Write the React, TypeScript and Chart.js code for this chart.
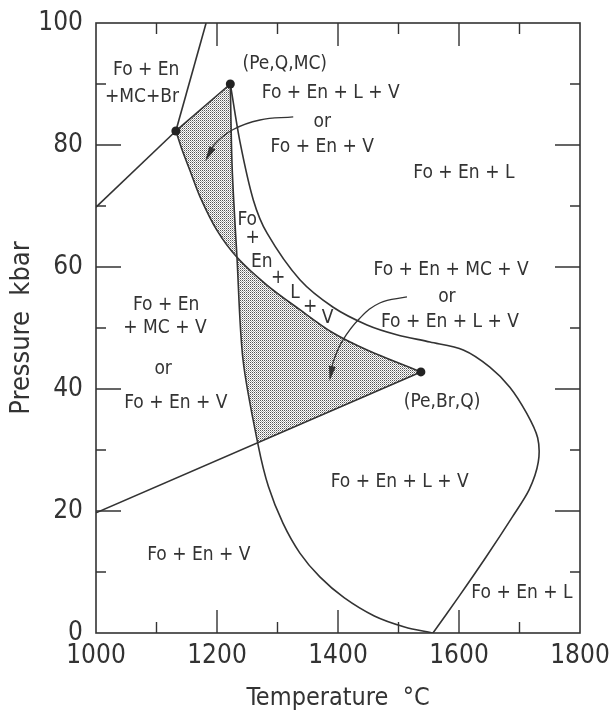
import React, { useEffect, useRef } from 'react';
import { Chart, registerables } from 'chart.js';

Chart.register(...registerables);

// ---- axes ----
const tempRange = [1000, 1800];
const pressRange = [0, 100];
const tempLabelTicks = [1000, 1200, 1400, 1600, 1800];
const pressLabelTicks = [0, 20, 40, 60, 80, 100];
const tempTickMarks = [1100, 1200, 1300, 1400, 1500, 1600, 1700];
const pressTickMarks = [10, 20, 30, 40, 50, 60, 70, 80, 90];

// ---- curve A: from (Pe,Q,MC) down to 1557 °C at 0 kbar ----
const curveAT = [1222, 1225, 1233, 1243, 1268, 1285, 1309, 1337, 1370, 1410, 1460, 1510, 1557];
const curveAP = [90, 76.4, 61.6, 44.8, 30.8, 24, 18, 13.1, 9.2, 5.8, 2.8, 1, 0];

// ---- curve B: right loop from 1557 °C back up to (Pe,Q,MC) ----
const curveBT = [1557, 1600, 1645, 1688, 1716, 1731, 1730, 1712, 1684, 1651, 1607, 1552, 1497, 1448, 1392, 1337, 1283, 1260, 1238, 1222];
const curveBP = [0, 6, 12.5, 19, 23.5, 28, 32, 36, 40.3, 43.6, 46.4, 47.7, 48.9, 50.5, 53.4, 57.9, 65.5, 71, 80.5, 90];

// ---- curve C: lower band curve to (Pe,Br,Q) ----
const curveCT = [1132, 1143, 1155, 1172, 1200, 1233, 1283, 1337, 1390, 1450, 1537];
const curveCP = [82.3, 79, 75.9, 71.5, 66, 61.6, 57, 53, 49.3, 46.3, 42.8];

// ---- straight lines ----
const lineDT = [1000, 1132];
const lineDP = [69.8, 82.3];
const lineSteepT = [1132, 1182];
const lineSteepP = [82.3, 100];
const lineET = [1132, 1222];
const lineEP = [82.3, 90];
const lineFT = [1000, 1537];
const lineFP = [19.7, 42.8];

// ---- shaded fields ----
const shade1TopT = [1132, 1222, 1225, 1233];
const shade1TopP = [82.3, 90, 76.4, 61.6];
const shade1BotT = [1132, 1143, 1155, 1172, 1200, 1233];
const shade1BotP = [82.3, 79, 75.9, 71.5, 66, 61.6];
const shade2TopT = [1233, 1283, 1337, 1390, 1450, 1537];
const shade2TopP = [61.6, 57, 53, 49.3, 46.3, 42.8];
const shade2BotT = [1233, 1243, 1255, 1268, 1537];
const shade2BotP = [61.6, 44.8, 37.5, 31.2, 42.8];

// ---- arrows ----
const arrow1T = [1326, 1271, 1226, 1195, 1183];
const arrow1P = [84.6, 84.1, 82.5, 80.0, 77.8];
const arrow2T = [1514, 1469, 1436, 1408, 1392, 1387];
const arrow2P = [55.1, 54.1, 51.6, 48.0, 44.4, 41.8];

// ---- invariant points ----
const pointT = [1132, 1222, 1537];
const pointP = [82.3, 90, 42.8];

// ---- field labels ----
const labelText = [
  'Fo + En', '+MC+Br', '(Pe,Q,MC)', 'Fo + En + L + V', 'or', 'Fo + En + V', 'Fo + En + L',
  'Fo', '+', 'En', '+', 'L', '+', 'V',
  'Fo + En + MC + V', 'or', 'Fo + En + L + V',
  'Fo + En', '+ MC + V', 'or', 'Fo + En + V',
  '(Pe,Br,Q)', 'Fo + En + L + V', 'Fo + En + V', 'Fo + En + L',
];
const labelT = [
  1083, 1076, 1312, 1388, 1374, 1374, 1608,
  1250, 1259, 1274, 1301, 1329, 1354, 1383,
  1587, 1580, 1585,
  1116, 1114, 1111, 1132,
  1572, 1502, 1170, 1704,
];
const labelP = [
  92.3, 87.9, 93.3, 88.5, 83.8, 79.7, 75.4,
  67.7, 64.8, 60.8, 58.2, 55.7, 53.4, 51.6,
  59.5, 55.1, 51,
  53.8, 50, 43.3, 37.7,
  37.9, 24.8, 12.8, 6.6,
];

const FONT = "'Liberation Sans Narrow', 'DejaVu Sans Condensed', 'Liberation Sans', sans-serif";
const INK = '#333333';

const pts = (t: number[], p: number[]) => t.map((x, i) => ({ x, y: p[i] }));

export default function App() {
  const ref = useRef<HTMLCanvasElement | null>(null);

  useEffect(() => {
    const canvas = ref.current;
    if (!canvas) return;
    const ctx = canvas.getContext('2d')!;

    const tile = document.createElement('canvas');
    tile.width = 2;
    tile.height = 2;
    const tg = tile.getContext('2d')!;
    tg.fillStyle = '#ffffff';
    tg.fillRect(0, 0, 2, 2);
    tg.fillStyle = '#555555';
    tg.fillRect(0, 0, 1, 1);
    tg.fillStyle = '#aaaaaa';
    tg.fillRect(1, 1, 1, 1);
    const stipple = ctx.createPattern(tile, 'repeat')!;

    const curve = (t: number[], p: number[], tension = 0.3) => ({
      data: pts(t, p),
      borderColor: INK,
      borderWidth: 1.6,
      pointRadius: 0,
      fill: false,
      tension,
      order: 2,
    });
    const shade = (t: number[], p: number[], fill: any) => ({
      data: pts(t, p),
      borderColor: 'rgba(0,0,0,0)',
      borderWidth: 0,
      pointRadius: 0,
      backgroundColor: stipple,
      fill,
      tension: 0,
      order: 5,
    });

    const framePlugin = {
      id: 'frame',
      afterDatasetsDraw(chart: any) {
        const c = chart.ctx;
        const { left, right, top, bottom } = chart.chartArea;
        const xs = chart.scales.x;
        const ys = chart.scales.y;
        c.save();
        c.strokeStyle = INK;
        c.lineWidth = 1.6;
        c.strokeRect(left, top, right - left, bottom - top);
        c.lineWidth = 1.4;
        c.beginPath();
        tempTickMarks.forEach((v) => {
          const len = tempLabelTicks.includes(v) ? 23 : 11;
          const px = xs.getPixelForValue(v);
          c.moveTo(px, bottom);
          c.lineTo(px, bottom - len);
          c.moveTo(px, top);
          c.lineTo(px, top + len);
        });
        pressTickMarks.forEach((v) => {
          const len = pressLabelTicks.includes(v) ? 25 : 10;
          const py = ys.getPixelForValue(v);
          c.moveTo(left, py);
          c.lineTo(left + len, py);
          c.moveTo(right, py);
          c.lineTo(right - len, py);
        });
        c.stroke();

        // arrowheads
        [8, 9].forEach((idx) => {
          const meta = chart.getDatasetMeta(idx);
          const n = meta.data.length;
          const a = meta.data[n - 2];
          const b = meta.data[n - 1];
          const ang = Math.atan2(b.y - a.y, b.x - a.x);
          c.save();
          c.translate(b.x, b.y);
          c.rotate(ang);
          c.fillStyle = INK;
          c.beginPath();
          c.moveTo(3, 0);
          c.lineTo(-12, -3.5);
          c.lineTo(-12, 3.5);
          c.closePath();
          c.fill();
          c.restore();
        });

        // field labels
        c.fillStyle = INK;
        c.font = `19px ${FONT}`;
        c.textAlign = 'center';
        c.textBaseline = 'middle';
        labelText.forEach((s, i) => {
          c.fillText(s, xs.getPixelForValue(labelT[i]), ys.getPixelForValue(labelP[i]));
        });
        c.restore();
      },
    };

    const chart = new Chart(ctx, {
      type: 'line',
      data: {
        datasets: [
          shade(shade1TopT, shade1TopP, '+1'),
          shade(shade1BotT, shade1BotP, false),
          shade(shade2TopT, shade2TopP, '+1'),
          shade(shade2BotT, shade2BotP, false),
          curve(curveAT, curveAP),
          curve(curveBT, curveBP),
          curve(curveCT, curveCP),
          curve(lineFT, lineFP, 0),
          { ...curve(arrow1T, arrow1P, 0.4), borderWidth: 1.3 },
          { ...curve(arrow2T, arrow2P, 0.4), borderWidth: 1.3 },
          curve(lineDT, lineDP, 0),
          curve(lineSteepT, lineSteepP, 0),
          curve(lineET, lineEP, 0),
          {
            data: pts(pointT, pointP),
            showLine: false,
            pointRadius: 4.5,
            pointBackgroundColor: '#222',
            pointBorderWidth: 0,
            order: 1,
          },
        ],
      },
      options: {
        animation: false,
        responsive: false,
        layout: { padding: { top: 23, right: 31, left: 0, bottom: 0 } },
        plugins: { legend: { display: false }, tooltip: { enabled: false } },
        scales: {
          x: {
            type: 'linear',
            min: tempRange[0],
            max: tempRange[1],
            afterFit: (s: any) => { s.height = 80; },
            grid: { display: false },
            border: { display: false },
            afterBuildTicks: (s: any) => { s.ticks = tempLabelTicks.map((v) => ({ value: v })); },
            ticks: {
              color: INK,
              font: { family: FONT, size: 26 },
              padding: 0,
              maxRotation: 0,
              autoSkip: false,
              callback: (v: any) => String(v),
            },
            title: {
              display: true,
              text: 'Temperature  °C',
              color: INK,
              font: { family: FONT, size: 25, lineHeight: 1 },
              padding: { top: 0, bottom: 2 },
            },
          },
          y: {
            type: 'linear',
            min: pressRange[0],
            max: pressRange[1],
            afterFit: (s: any) => { s.width = 96; },
            grid: { display: false },
            border: { display: false },
            afterBuildTicks: (s: any) => { s.ticks = pressLabelTicks.map((v) => ({ value: v })); },
            ticks: {
              color: INK,
              font: { family: FONT, size: 26 },
              padding: 5,
              callback: (v: any) => String(v),
            },
            title: {
              display: true,
              text: 'Pressure  kbar',
              color: INK,
              font: { family: FONT, size: 27, lineHeight: 1 },
              padding: { top: 8, bottom: 0 },
            },
          },
        },
      },
      plugins: [framePlugin],
    });

    return () => chart.destroy();
  }, []);

  return (
    <div style={{ position: 'absolute', left: 0, top: 0, width: 611, height: 713, background: '#fff' }}>
      <canvas ref={ref} width={611} height={713} style={{ display: 'block' }} />
    </div>
  );
}
